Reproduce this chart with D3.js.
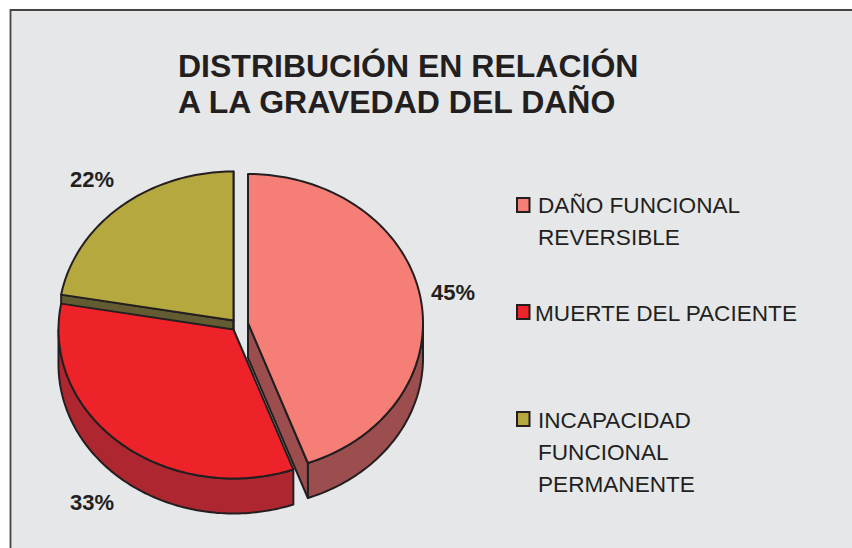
<!DOCTYPE html>
<html>
<head>
<meta charset="utf-8">
<script src="https://cdn.jsdelivr.net/npm/d3@7/dist/d3.min.js"></script>
<style>
  html, body { margin: 0; padding: 0; background: #fff; }
  svg { display: block; }
  text { font-family: "Liberation Sans", Arial, sans-serif; fill: #231f20; }
</style>
</head>
<body>
<svg id="chart" width="852" height="548"></svg>
<script>
// Pie data
const categories = ['DAÑO FUNCIONAL|REVERSIBLE', 'MUERTE DEL PACIENTE', 'INCAPACIDAD|FUNCIONAL|PERMANENTE'];
const values = [45, 33, 22];
const titleLines = ['DISTRIBUCIÓN EN RELACIÓN', 'A LA GRAVEDAD DEL DAÑO'];

// styles and layout, same order as the data
const topColours = ['#f57f76', '#ee2229', '#b5a83e'];
const sideColours = ['#9c4e4e', '#ae2730', '#635c33'];
const centres = [[248, 323], [233.5, 329.5], [233.5, 320.5]];
const labelPos = [[431, 300], [70, 510], [70, 187]];
const legendRows = [{ box: 198, text: 538, base: 213 },
                    { box: 305, text: 535, base: 321 },
                    { box: 412, text: 538, base: 428 }];

const rx = 175;
const ry = 149;
const depth = 35;
const ink = '#231f20';

const svg = d3.select('#chart');

// panel, only left and top edges have a visible rule
svg.append('rect').attr('x', 10).attr('y', 10).attr('width', 842).attr('height', 538).attr('fill', '#e6e7e9');
svg.append('path').attr('d', 'M10.5,548V10H852').attr('fill', 'none').attr('stroke', '#444').attr('stroke-width', 1.8);

svg.selectAll('text.title')
  .data(titleLines)
  .enter()
  .append('text')
  .attr('class', 'title')
  .attr('x', 178)
  .attr('y', function (d, i) { return 77 + i * 36; })
  .attr('font-size', 32)
  .attr('font-weight', 'bold')
  .text(function (d) { return d; });

// the drawn wedges sit a little behind the printed shares
const angle = d3.scaleLinear().domain([0, 162 * Math.PI / 180, 2 * Math.PI]).range([0, 160 * Math.PI / 180, 2 * Math.PI]);

const slices = d3.pie().sort(null)(values).map(function (d) {
  return { index: d.index, value: d.value, a0: angle(d.startAngle), a1: angle(d.endAngle) };
});

// point on the rim of a slice's ellipse, dy pushes it down to the bottom of the pie
function rim(d, a, dy) {
  const c = centres[d.index];
  return [c[0] + rx * Math.sin(a), c[1] - ry * Math.cos(a) + dy];
}

function arcPoints(d, a0, a1, dy) {
  const n = Math.ceil(Math.abs(a1 - a0) / 0.02);
  return d3.range(n + 1).map(function (i) { return rim(d, a0 + (a1 - a0) * i / n, dy); });
}

const line = d3.line();

function topFace(d) {
  return line([centres[d.index]].concat(arcPoints(d, d.a0, d.a1, 0))) + 'Z';
}

// outer wall, only the part of the rim facing the viewer
function wall(d) {
  const a0 = Math.max(d.a0, Math.PI / 2);
  const a1 = Math.min(d.a1, Math.PI * 1.5);
  if (a1 <= a0) return null;
  return line(arcPoints(d, a0, a1, 0).concat(arcPoints(d, a1, a0, depth))) + 'Z';
}

// cut face, along a radius and pushed down by the depth
function cut(d, a) {
  const c = centres[d.index];
  const e = rim(d, a, 0);
  return line([c, e, [e[0], e[1] + depth], [c[0], c[1] + depth]]) + 'Z';
}

const pie = svg.append('g').attr('stroke', ink).attr('stroke-width', 2).attr('stroke-linejoin', 'round');

// back to front: olive side, pink side, red side, then the tops
pie.append('path').attr('d', cut(slices[2], slices[2].a0)).attr('fill', sideColours[2]);
pie.append('path').attr('d', cut(slices[2], slices[2].a1)).attr('fill', sideColours[2]);

pie.selectAll('path.wall')
  .data(slices.filter(function (d) { return d.index < 2; }))
  .enter()
  .append('path')
  .attr('class', 'wall')
  .attr('d', wall)
  .attr('fill', function (d) { return sideColours[d.index]; });

pie.append('path').attr('d', cut(slices[0], slices[0].a1)).attr('fill', sideColours[0]);

pie.selectAll('path.top')
  .data([slices[2], slices[0], slices[1]])
  .enter()
  .append('path')
  .attr('class', 'top')
  .attr('d', topFace)
  .attr('fill', function (d) { return topColours[d.index]; });

svg.selectAll('text.pct')
  .data(slices)
  .enter()
  .append('text')
  .attr('class', 'pct')
  .attr('x', function (d) { return labelPos[d.index][0]; })
  .attr('y', function (d) { return labelPos[d.index][1]; })
  .attr('font-size', 22)
  .attr('font-weight', 'bold')
  .text(function (d) { return d.value + '%'; });

// legend
const legend = svg.selectAll('g.legend')
  .data(categories)
  .enter()
  .append('g')
  .attr('class', 'legend');

legend.append('rect')
  .attr('x', 517)
  .attr('y', function (d, i) { return legendRows[i].box; })
  .attr('width', 12.5)
  .attr('height', 14)
  .attr('fill', function (d, i) { return topColours[i]; })
  .attr('stroke', ink)
  .attr('stroke-width', 2);

legend.each(function (d, i) {
  d3.select(this).selectAll('text')
    .data(d.split('|'))
    .enter()
    .append('text')
    .attr('x', legendRows[i].text)
    .attr('y', function (t, j) { return legendRows[i].base + j * 32; })
    .attr('font-size', 22.6)
    .text(function (t) { return t; });
});
</script>
</body>
</html>
